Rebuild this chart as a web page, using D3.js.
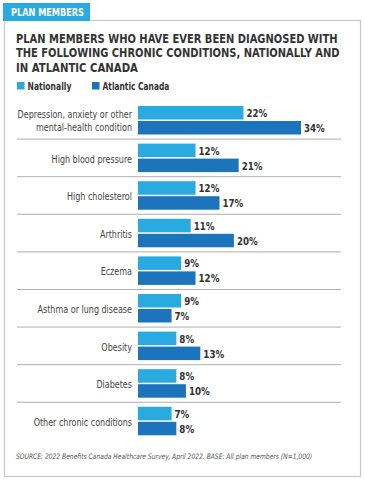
<!DOCTYPE html>
<html>
<head>
<meta charset="utf-8">
<script src="https://cdn.jsdelivr.net/npm/d3@7"></script>
<style>
  body { margin: 0; background: #fff; }
  svg { display: block; }
</style>
</head>
<body>
<div id="chart"></div>
<script>
// data
var conditions = [
  ["Depression, anxiety or other", "mental-health condition"],
  ["High blood pressure"],
  ["High cholesterol"],
  ["Arthritis"],
  ["Eczema"],
  ["Asthma or lung disease"],
  ["Obesity"],
  ["Diabetes"],
  ["Other chronic conditions"]
];
var national = [22, 12, 12, 11, 9, 9, 8, 8, 7];
var atlantic = [34, 21, 17, 20, 12, 7, 13, 10, 8];
var seriesNames = ["Nationally", "Atlantic Canada"];
var seriesColors = ["#29abe2", "#1c75bc"];
var titleLines = [
  "PLAN MEMBERS WHO HAVE EVER BEEN DIAGNOSED WITH",
  "THE FOLLOWING CHRONIC CONDITIONS, NATIONALLY AND",
  "IN ATLANTIC CANADA"
];
var sourceText = "SOURCE: 2022 Benefits Canada Healthcare Survey, April 2022. BASE: All plan members (N=1,000)";

var svgWidth = 365;
var svgHeight = 483;

var svg = d3.select("#chart")
  .append("svg")
  .attr("width", svgWidth)
  .attr("height", svgHeight);

var condensed = "'DejaVu Sans Condensed', 'DejaVu Sans', sans-serif";

// squeeze a text horizontally so it fills a given width (the original font is narrower)
function fitWidth(sel, target) {
  sel.each(function() {
    var w = this.getComputedTextLength();
    var node = d3.select(this);
    var x0 = +node.attr("x"), y0 = +node.attr("y");
    node.attr("x", 0).attr("y", 0)
      .attr("transform", `translate(${x0}, ${y0}) scale(${target / w}, 1)`);
  });
}

// outer box
svg.append("rect")
  .attr("x", 4.5).attr("y", 20.5)
  .attr("width", 356).attr("height", 456)
  .attr("fill", "#fff")
  .attr("stroke", "#c8c8c8")
  .attr("stroke-width", 1.2);

// tab
svg.append("rect")
  .attr("x", 3).attr("y", 3)
  .attr("width", 87).attr("height", 18)
  .attr("fill", "#29abe2");

svg.append("text")
  .attr("x", 11).attr("y", 16)
  .attr("font-family", condensed)
  .attr("font-weight", "bold")
  .attr("font-size", 10)
  .attr("fill", "#fff")
  .text("PLAN MEMBERS")
  .call(fitWidth, 73);

// title
var titleWidths = [322, 324, 122];
svg.append("g").selectAll("text")
  .data(titleLines)
  .enter().append("text")
  .attr("x", 16)
  .attr("y", (d, i) => 42.5 + i * 14.5)
  .attr("font-family", condensed)
  .attr("font-weight", "bold")
  .attr("font-size", 12.5)
  .attr("fill", "#333")
  .text(d => d)
  .each(function(d, i) { d3.select(this).call(fitWidth, titleWidths[i]); });

// legend
var legendX = [17, 92];
var legendW = [44, 67];
var legend = svg.append("g").selectAll("g")
  .data(seriesNames)
  .enter().append("g")
  .attr("transform", (d, i) => `translate(${legendX[i]}, 82)`);

legend.append("rect")
  .attr("width", 7.5).attr("height", 7.5)
  .attr("fill", (d, i) => seriesColors[i]);

legend.append("text")
  .attr("x", 10.5).attr("y", 8)
  .attr("font-family", condensed)
  .attr("font-weight", "bold")
  .attr("font-size", 10.5)
  .attr("fill", "#333")
  .text(d => d)
  .each(function(d, i) { d3.select(this).call(fitWidth, legendW[i]); });

// scales
var x = d3.scaleLinear()
  .domain([0, 34])
  .range([138, 301]);

var y = d3.scaleBand()
  .domain(d3.range(conditions.length))
  .range([101.5, 101.5 + 37.6 * conditions.length]);

var barH = 13.5;
var barGap = 1.5;

var groups = svg.append("g").selectAll("g")
  .data(conditions)
  .enter().append("g")
  .attr("transform", (d, i) => `translate(0, ${y(i)})`);

// separator lines
groups.filter((d, i) => i < conditions.length - 1)
  .append("line")
  .attr("x1", 17).attr("x2", 341)
  .attr("y1", y.bandwidth()).attr("y2", y.bandwidth())
  .attr("stroke", "#9a9a9a")
  .attr("stroke-width", 0.8);

// category labels
groups.append("text")
  .attr("transform", "translate(132, 0) scale(0.85, 1)")
  .attr("text-anchor", "end")
  .attr("font-family", condensed)
  .attr("font-size", 10.5)
  .attr("fill", "#444")
  .selectAll("tspan")
  .data(d => d.map(t => ({ t: t, n: d.length })))
  .enter().append("tspan")
  .attr("x", 0)
  .attr("y", (d, j) => d.n === 1 ? 23.5 : 16.5 + j * 13.5)
  .text(d => d.t);

// bars
var series = [national, atlantic];
series.forEach(function(vals, s) {
  groups.append("rect")
    .attr("x", x(0))
    .attr("y", 4.5 + s * (barH + barGap))
    .attr("width", (d, i) => x(vals[i]) - x(0))
    .attr("height", barH)
    .attr("fill", seriesColors[s]);

  groups.append("text")
    .attr("transform", (d, i) => `translate(${x(vals[i]) + 3}, ${4.5 + s * (barH + barGap) + 11}) scale(0.88, 1)`)
    .attr("font-family", condensed)
    .attr("font-weight", "bold")
    .attr("font-size", 11)
    .attr("fill", "#333")
    .text((d, i) => vals[i] + "%");
});

// source
svg.append("text")
  .attr("x", 16).attr("y", 459)
  .attr("font-family", condensed)
  .attr("font-style", "italic")
  .attr("font-size", 7.5)
  .attr("fill", "#555")
  .text(sourceText)
  .call(fitWidth, 297);
</script>
</body>
</html>
